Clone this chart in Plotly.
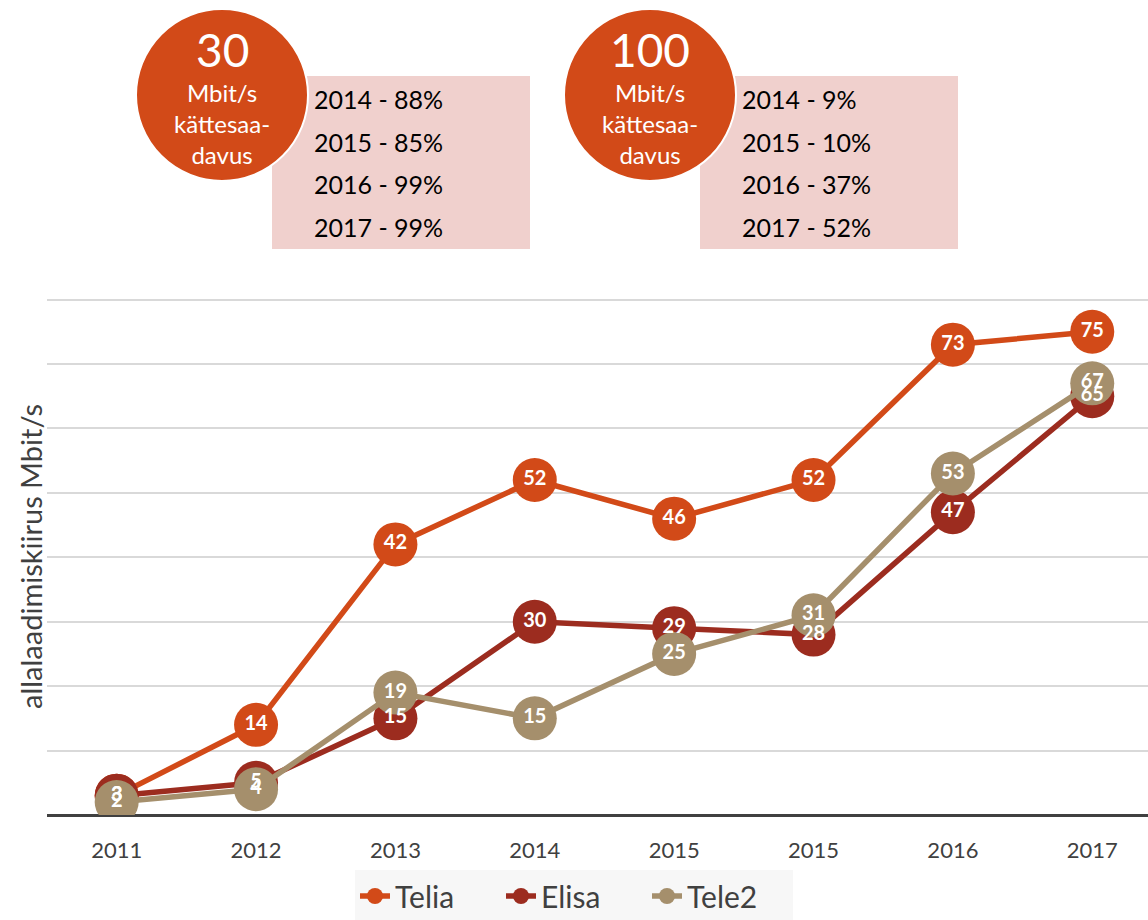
import plotly.graph_objects as go

categories = ["2011", "2012", "2013", "2014", "2015", "2015", "2016", "2017"]
telia = [3, 14, 42, 52, 46, 52, 73, 75]
elisa = [3, 5, 15, 30, 29, 28, 47, 65]
tele2 = [2, 4, 19, 15, 25, 31, 53, 67]

series_names = ["Telia", "Elisa", "Tele2"]
series_values = [telia, elisa, tele2]
series_colors = ["#D24A18", "#9C2C1F", "#A58F6C"]

box1_title = "30"
box1_lines = ["2014 - 88%", "2015 - 85%", "2016 - 99%", "2017 - 99%"]
box2_title = "100"
box2_lines = ["2014 - 9%", "2015 - 10%", "2016 - 37%", "2017 - 52%"]
circle_sub = "Mbit/s<br>kättesaa-<br>davus"
y_title = "allalaadimiskiirus Mbit/s"

W, H = 1148, 920
L, R, T, B = 47, 0, 297, 105
pw, ph = W - L - R, H - T - B

def px(x):
    return (x - L) / pw

def py(y):
    return (H - B - y) / ph

xs = list(range(len(categories)))
FONT = "Lato, Open Sans, sans-serif"

fig = go.Figure()
for name, vals, col in zip(series_names, series_values, series_colors):
    fig.add_trace(go.Scatter(
        x=xs, y=vals, name=name, mode="lines+markers",
        line=dict(color=col, width=5.5),
        marker=dict(color=col, size=44),
    ))
for name, vals, col in zip(series_names, series_values, series_colors):
    fig.add_trace(go.Scatter(
        x=xs, y=vals, mode="text", text=[str(v) for v in vals],
        textposition="middle center", showlegend=False, hoverinfo="skip",
        textfont=dict(color="white", size=20, family=FONT, weight="bold"),
    ))

shapes = []
annotations = []
for cx, bx0, title, lines in [(222, 272, box1_title, box1_lines), (650, 700, box2_title, box2_lines)]:
    shapes.append(dict(type="rect", xref="paper", yref="paper",
                       x0=px(bx0), x1=px(bx0 + 258), y0=py(249), y1=py(76),
                       fillcolor="#F0D0CD", line=dict(width=0), layer="above"))
    shapes.append(dict(type="circle", xref="paper", yref="paper",
                       x0=px(cx - 86), x1=px(cx + 86), y0=py(181), y1=py(9),
                       fillcolor="#D24A18", line=dict(color="white", width=2), layer="above"))
    annotations.append(dict(xref="paper", yref="paper", x=px(cx), y=py(50),
                            text=title, showarrow=False, xanchor="center", yanchor="middle",
                            font=dict(color="white", size=46, family=FONT)))
    annotations.append(dict(xref="paper", yref="paper", x=px(cx), y=py(124),
                            text=circle_sub, showarrow=False, xanchor="center", yanchor="middle",
                            font=dict(color="white", size=24, family=FONT)))
    for i, t in enumerate(lines):
        annotations.append(dict(xref="paper", yref="paper", x=px(bx0 + 40), y=py(99 + 42.5 * i),
                                text=t, showarrow=False, xanchor="left", yanchor="middle",
                                font=dict(color="black", size=25, family=FONT)))

annotations.append(dict(xref="paper", yref="paper", x=px(30), y=py(557),
                        text=y_title, textangle=-90, showarrow=False,
                        xanchor="center", yanchor="middle",
                        font=dict(color="#404040", size=29, family=FONT)))

fig.update_layout(
    width=W, height=H,
    margin=dict(l=L, r=R, t=T, b=B, autoexpand=False),
    paper_bgcolor="white", plot_bgcolor="white",
    font=dict(family=FONT, color="#404040"),
    xaxis=dict(range=[-0.5, 7.4], tickvals=xs, ticktext=categories,
               showgrid=False, zeroline=False, showline=False,
               tickfont=dict(size=22, color="#404040"), ticks="",
               ticklabelstandoff=20),
    yaxis=dict(range=[0, 80.4], dtick=10, showticklabels=False,
               gridcolor="#D9D9D9", gridwidth=1.5, zeroline=True,
               zerolinecolor="#404040", zerolinewidth=3),
    legend=dict(orientation="h", x=px(574), y=py(896), xanchor="center", yanchor="middle",
                bgcolor="#F7F7F7", font=dict(size=30, color="#404040"),
                entrywidth=101, entrywidthmode="pixels", tracegroupgap=0),
    shapes=shapes, annotations=annotations,
    showlegend=True,
)

fig.write_html("out.html", config={"displayModeBar": False},
               post_script="document.body.style.margin='0';")
